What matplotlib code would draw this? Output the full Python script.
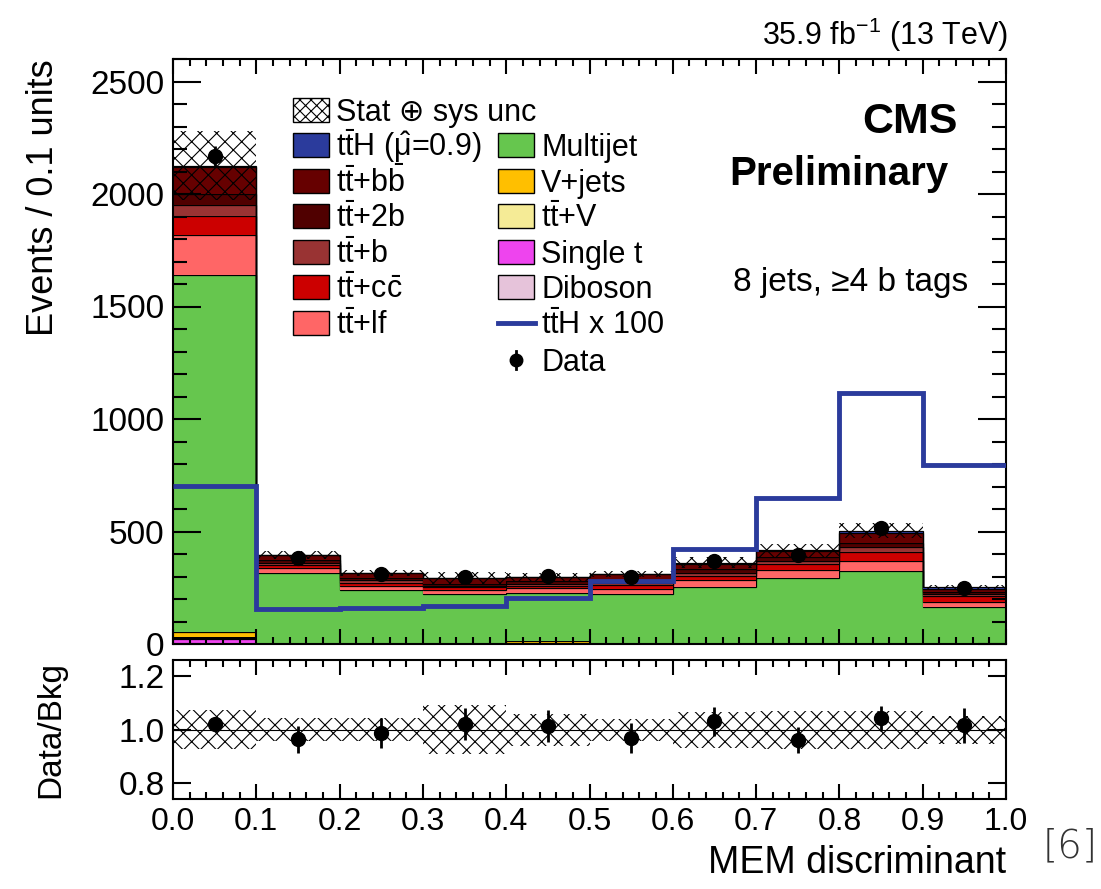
import matplotlib
matplotlib.use("Agg")
import matplotlib.pyplot as plt
from matplotlib.patches import Rectangle
from matplotlib.lines import Line2D
from matplotlib.ticker import MultipleLocator, FixedLocator, NullLocator, FormatStrFormatter
import numpy as np

plt.rcParams['font.family'] = ['Liberation Sans', 'DejaVu Sans']
plt.rcParams['mathtext.fontset'] = 'custom'
plt.rcParams['mathtext.rm'] = 'Liberation Sans'
plt.rcParams['mathtext.it'] = 'Liberation Sans'
plt.rcParams['mathtext.bf'] = 'Liberation Sans:bold'
plt.rcParams['hatch.linewidth'] = 0.8

# MEM discriminant bins
edges = np.array([0.0, 0.1, 0.2, 0.3, 0.4, 0.5, 0.6, 0.7, 0.8, 0.9, 1.0])
centers = 0.5 * (edges[:-1] + edges[1:])

# expected yields per bin (events / 0.1 units)
single_t = np.array([24, 2, 2, 1, 3, 1, 1, 1, 1, 1])
diboson = np.array([2, 0.5, 0.5, 0.5, 0.5, 0.5, 0.5, 0.5, 0.5, 0.5])
ttv = np.array([4, 1.5, 1.5, 1.5, 1.5, 1.5, 2, 2, 2.5, 1.5])
vjets = np.array([22, 1, 1, 1, 8, 1, 1, 1, 1, 1])
multijet = np.array([1590, 312, 234, 217, 215, 220, 250, 288, 320, 162])
tt_lf = np.array([177, 23, 18, 19, 22, 19, 29, 36, 44, 21])
tt_cc = np.array([83, 10, 16, 12, 8, 18, 20, 27, 40, 27])
tt_b = np.array([47, 12, 10, 8, 10, 12, 14, 14, 24, 10])
tt_2b = np.array([49, 10, 10, 8, 10, 10, 14, 15, 18, 8])
tt_bb = np.array([122, 23, 21, 24, 20, 26, 26, 27, 43, 12])
tth = np.array([7.03, 1.54, 1.59, 1.69, 2.06, 2.80, 4.24, 6.51, 11.17, 7.97])
mu_hat = 0.9

# relative stat+syst uncertainty on the total expectation
unc_frac = np.array([0.073, 0.042, 0.043, 0.091, 0.060, 0.040, 0.068, 0.070, 0.070, 0.053])

data = np.array([2167, 381, 310, 298, 302, 300, 369, 396, 515, 248])
data_err = np.array([46.5, 19.5, 17.6, 17.3, 17.4, 17.3, 19.2, 19.9, 22.7, 15.7])

c_tth = '#2b3b9c'
stack = [
    (single_t, '#ee44ee', 'Single t'),
    (diboson, '#e6c3da', 'Diboson'),
    (ttv, '#f5eb96', r't$\mathrm{\bar{t}}$+V'),
    (vjets, '#ffbf00', 'V+jets'),
    (multijet, '#66c64e', 'Multijet'),
    (tt_lf, '#ff6666', r't$\mathrm{\bar{t}}$+lf'),
    (tt_cc, '#cc0000', r't$\mathrm{\bar{t}}$+c$\mathrm{\bar{c}}$'),
    (tt_b, '#993333', r't$\mathrm{\bar{t}}$+b'),
    (tt_2b, '#500000', r't$\mathrm{\bar{t}}$+2b'),
    (tt_bb, '#660000', r't$\mathrm{\bar{t}}$+b$\mathrm{\bar{b}}$'),
    (tth * mu_hat, c_tth, r't$\mathrm{\bar{t}}$H ($\hat{\mu}$=0.9)'),
]

W, H = 1101, 889
def fx(px):
    return px / W
def fy(py):
    return 1 - py / H

fig = plt.figure(figsize=(W / 100, H / 100), dpi=100)
ax = fig.add_axes([fx(173), fy(644), (1006 - 173) / W, (644 - 59) / H])
rax = fig.add_axes([fx(173), fy(799), (1006 - 173) / W, (799 - 660) / H])

# stacked expectation
bottom = np.zeros(len(centers))
for vals, col, _ in stack:
    top = bottom + vals
    ax.stairs(top, edges, baseline=bottom, fill=True, color=col, lw=0)
    ax.stairs(top, edges, baseline=None, color='black', lw=0.9)
    bottom = top
total = bottom
bkg = total - tth * mu_hat

unc = unc_frac * bkg
ax.bar(edges[:-1], 2 * unc, bottom=total - unc, width=0.1, align='edge',
       fill=False, hatch='xx', lw=0, edgecolor='black')

ax.stairs(tth * 100, edges, baseline=None, color=c_tth, lw=3.5, zorder=3)
ax.errorbar(centers, data, yerr=data_err, fmt='o', color='black', ms=10,
            elinewidth=2, capsize=0, zorder=4)

ax.set_xlim(0, 1)
ax.set_ylim(0, 2600)
ax.set_axisbelow(False)
ax.xaxis.set_major_locator(MultipleLocator(0.1))
ax.xaxis.set_minor_locator(MultipleLocator(0.02))
ax.yaxis.set_major_locator(MultipleLocator(500))
ax.yaxis.set_minor_locator(MultipleLocator(100))
ax.tick_params(axis='both', which='both', direction='in', top=True, right=True, width=1.5)
ax.tick_params(axis='y', which='major', length=20, labelsize=24, pad=6)
ax.tick_params(axis='y', which='minor', length=10)
ax.tick_params(axis='x', which='major', length=11, labelbottom=False)
ax.tick_params(axis='x', which='minor', length=5)
for s in ax.spines.values():
    s.set_linewidth(1.5)
ax.set_ylabel('Events / 0.1 units', fontsize=26, loc='top')
ax.yaxis.set_label_coords(-0.135, 1.0)

# ratio panel
ratio = data / bkg
ratio_err = data_err / bkg
rax.bar(edges[:-1], 2 * unc_frac, bottom=1 - unc_frac, width=0.1, align='edge',
        fill=False, hatch='xx', lw=0, edgecolor='black')
rax.axhline(1.0, color='black', lw=0.8)
rax.errorbar(centers, ratio, yerr=ratio_err, fmt='o', color='black', ms=10,
             elinewidth=2, capsize=0, zorder=4)
rax.set_xlim(0, 1)
rax.set_ylim(0.742, 1.26)
rax.set_axisbelow(False)
rax.xaxis.set_major_locator(MultipleLocator(0.1))
rax.xaxis.set_minor_locator(MultipleLocator(0.02))
rax.xaxis.set_major_formatter(FormatStrFormatter('%.1f'))
rax.yaxis.set_major_locator(FixedLocator([0.8, 1.0, 1.2]))
rax.yaxis.set_minor_locator(NullLocator())
rax.yaxis.set_major_formatter(FormatStrFormatter('%.1f'))
rax.tick_params(axis='both', which='both', direction='in', top=True, right=True, width=1.5)
rax.tick_params(axis='y', which='major', length=13, labelsize=24, pad=6)
rax.tick_params(axis='x', which='major', length=11, labelsize=23, pad=6)
rax.tick_params(axis='x', which='minor', length=5)
for s in rax.spines.values():
    s.set_linewidth(1.5)
rax.set_ylabel('Data/Bkg', fontsize=24)
rax.yaxis.set_label_coords(-0.128, 0.5)
rax.set_xlabel('MEM discriminant', fontsize=27, loc='right')
rax.xaxis.set_label_coords(1.0, -0.33)

# header and labels
fig.text(fx(1008), fy(45), r'35.9 fb$^{-1}$ (13 TeV)', ha='right', va='baseline', fontsize=22)
fig.text(fx(958), fy(133), 'CMS', ha='right', va='baseline', fontsize=31, fontweight='bold')
fig.text(fx(948), fy(185), 'Preliminary', ha='right', va='baseline', fontsize=29, fontweight='bold')
fig.text(fx(968), fy(291), '8 jets, ≥4 b tags', ha='right', va='baseline', fontsize=24)
fig.text(fx(1098), fy(857), '[6]', ha='right', va='baseline', fontsize=28,
         color='#333333', fontweight='light', family='DejaVu Sans')

# legend, two columns
by_label = {lab: col for _, col, lab in stack}
col1 = ['Stat ⊕ sys unc', stack[10][2], stack[9][2], stack[8][2], stack[7][2], stack[6][2], stack[5][2]]
col2 = [stack[4][2], stack[3][2], stack[2][2], stack[0][2], stack[1][2], r't$\mathrm{\bar{t}}$H x 100', 'Data']
rows1 = [110, 145, 181, 216, 252, 287, 323]
rows2 = [145, 181, 216, 252, 287, 323, 360]

def legend_entry(xb, yc, label):
    if label == 'Stat ⊕ sys unc':
        fig.add_artist(Rectangle((fx(xb), fy(yc + 12)), 36 / W, 24 / H, transform=fig.transFigure,
                                 facecolor='white', edgecolor='black', lw=1, hatch='xxx'))
    elif label == 'Data':
        fig.add_artist(Line2D([fx(xb + 18)] * 2, [fy(yc - 9), fy(yc + 9)], color='black', lw=2))
        fig.add_artist(Line2D([fx(xb + 18)], [fy(yc)], marker='o', ms=9, color='black'))
    elif 'x 100' in label:
        fig.add_artist(Line2D([fx(xb), fx(xb + 37)], [fy(yc)] * 2, color=c_tth, lw=3.5))
    else:
        fig.add_artist(Rectangle((fx(xb), fy(yc + 12)), 36 / W, 24 / H, transform=fig.transFigure,
                                 facecolor=by_label[label], edgecolor='black', lw=1))
    fig.text(fx(xb + 43), fy(yc + 11), label, ha='left', va='baseline', fontsize=22)

for lab, yc in zip(col1, rows1):
    legend_entry(293, yc, lab)
for lab, yc in zip(col2, rows2):
    legend_entry(498, yc, lab)

fig.savefig('out.png', dpi=100)
